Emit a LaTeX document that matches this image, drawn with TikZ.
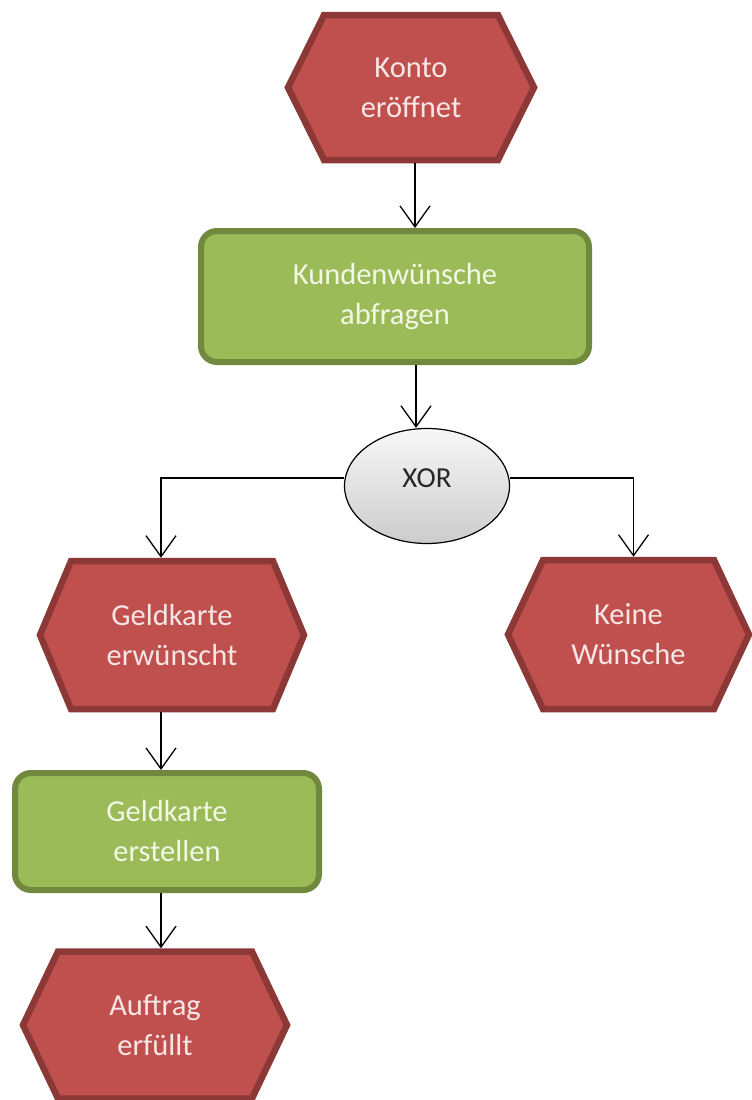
\documentclass[tikz,border=0pt]{standalone}
\usepackage{fontspec}
\setmainfont{Carlito}
\usetikzlibrary{arrows.meta,shapes.geometric}
\definecolor{evfill}{HTML}{C0504D}
\definecolor{evline}{HTML}{8C3836}
\definecolor{evtxt}{HTML}{F6E6E6}
\definecolor{fnfill}{HTML}{9BBB59}
\definecolor{fnline}{HTML}{71893F}
\definecolor{fntxt}{HTML}{F3F7E6}
\newcommand\hexat[5]{%
  \draw[evshape] (#1-#3,#2) -- (#1-#3+#5,#2-#4) -- (#1+#3-#5,#2-#4) -- (#1+#3,#2)
    -- (#1+#3-#5,#2+#4) -- (#1-#3+#5,#2+#4) -- cycle;}
\begin{document}
\begin{tikzpicture}[x=1pt,y=-1pt,
  evshape/.style={fill=evfill, draw=evline, line width=6.5pt, line join=miter},
  evnode/.style={draw=none, inner sep=0pt, outer sep=3.25pt, align=center, text=evtxt,
    font=\fontsize{30.5}{40}\selectfont},
  fnnode/.style={draw=fnline, fill=fnfill, line width=6pt, rounded corners=16pt, inner sep=0pt,
    align=center, text=fntxt, font=\fontsize{30.5}{40}\selectfont},
  xornode/.style={ellipse, draw=black, line width=1.2pt, top color=gray!6, bottom color=gray!40,
    inner sep=0pt, minimum width=165pt, minimum height=115pt},
  xorlabel/.style={yshift=8pt, text=black!85, font=\fontsize{29}{38}\selectfont},
  conn/.style={draw=black, line width=1.3pt, -{Straight Barb[length=21pt,width=30pt,line width=1.3pt]}}
]
\useasboundingbox (0,0) rectangle (752,1100);
% events (hexagons)
\hexat{411}{87.5}{123}{72.5}{36}
\node[evnode, minimum width=246pt, minimum height=145pt] (k1) at (411,87.5) {Konto\\eröffnet};
\hexat{172}{635}{132}{74}{31}
\node[evnode, minimum width=264pt, minimum height=148pt] (gk) at (172,635) {Geldkarte\\erwünscht};
\hexat{628.5}{634.5}{120.5}{74.5}{35}
\node[evnode, minimum width=241pt, minimum height=149pt] (kw) at (628.5,634.5) {Keine\\Wünsche};
\hexat{155}{1025}{132}{73.5}{35}
\node[evnode, minimum width=264pt, minimum height=147pt] (a3) at (155,1025) {Auftrag\\erfüllt};
% functions
\node[fnnode, minimum width=388pt, minimum height=131pt] (box1) at (395,296.5) {Kundenwünsche\\abfragen};
\node[fnnode, minimum width=304pt, minimum height=117pt] (box2) at (167,831.5) {Geldkarte\\erstellen};
% operator
\node[xornode, label={[xorlabel]center:XOR}] (xor) at (427,486) {};
% connectors
\draw[conn] ([xshift=4pt]k1.south) -- ([xshift=4pt]k1.south |- box1.north);
\draw[conn] ([xshift=-11pt]xor.north |- box1.south) -- ([xshift=-11pt]xor.north);
\draw[conn] ([yshift=8pt]xor.west) -| ([xshift=-11pt]gk.north);
\draw[conn] ([yshift=8pt]xor.east) -| ([xshift=5pt]kw.north);
\draw[conn] ([xshift=-11pt]gk.south) -- ([xshift=-11pt]gk.south |- box2.north);
\draw[conn] ([xshift=-6pt]box2.south) -- ([xshift=-6pt]box2.south |- a3.north);
\end{tikzpicture}
\end{document}
